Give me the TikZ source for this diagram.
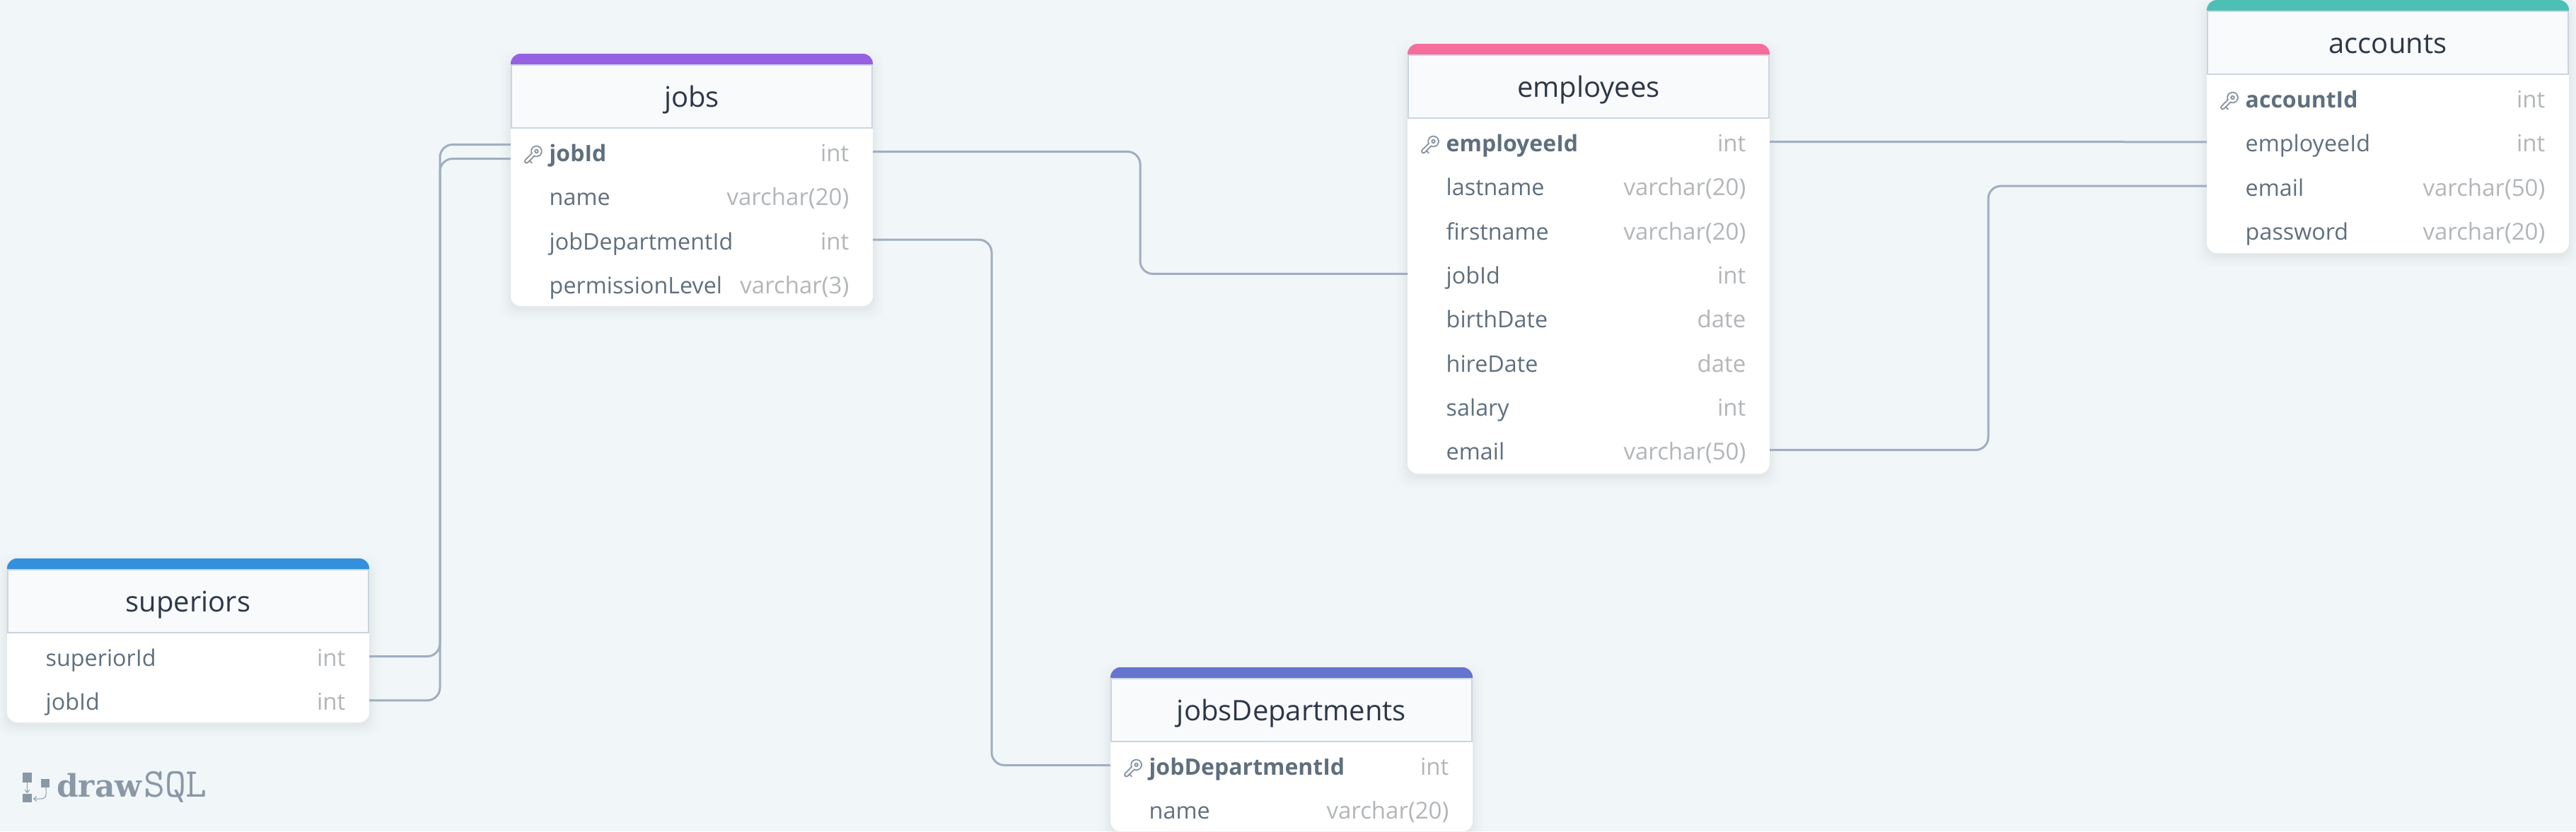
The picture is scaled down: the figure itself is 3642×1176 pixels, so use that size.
\documentclass[tikz,border=0pt]{standalone}
\usepackage{fontspec}
\setmainfont{Open Sans}
\newfontfamily\logobold{DejaVu Serif}
\usetikzlibrary{calc,arrows.meta}
\definecolor{pagebg}{HTML}{F1F6F9}
\definecolor{headbg}{HTML}{F8FAFC}
\definecolor{headline}{HTML}{CBD5E0}
\definecolor{titlecol}{HTML}{2D3748}
\definecolor{namecol}{HTML}{5F6F7E}
\definecolor{typecol}{HTML}{B3B6B9}
\definecolor{relcol}{HTML}{A0AEC0}
\definecolor{keycol}{HTML}{8795A1}
\definecolor{logocol}{HTML}{8A98A5}
\definecolor{cpurple}{HTML}{9561E2}
\definecolor{cblue}{HTML}{3490DC}
\definecolor{cpink}{HTML}{F66D9B}
\definecolor{cteal}{HTML}{4DC0B5}
\definecolor{cindigo}{HTML}{6574CD}
\tikzset{
  cardbox/.style={fill=white,rounded corners=14pt,inner sep=0pt,outer sep=0pt,minimum width=512pt,anchor=north west},
  headbox/.style={fill=headbg,draw=headline,line width=2pt,inner sep=0pt,outer sep=0pt,minimum width=510pt,minimum height=89pt,anchor=north west},
  fieldrow/.style={inner sep=0pt,outer sep=0pt,minimum width=512pt,minimum height=62pt},
  titletext/.style={inner sep=0pt,anchor=base,text=titlecol,font=\fontsize{40}{40}\selectfont},
  nametext/.style={inner sep=0pt,anchor=base west,text=namecol,font=\fontsize{32.3}{32.3}\selectfont},
  pknametext/.style={nametext,font=\fontsize{32}{32}\selectfont\bfseries},
  typetext/.style={inner sep=0pt,anchor=base east,text=typecol,font=\fontsize{33}{33}\selectfont},
  rel/.style={draw=relcol,line width=3pt,rounded corners=18pt},
  keyicon/.style={draw=keycol,line width=2pt,double=white,double distance=3pt,line cap=round,line join=round},
}
\newcommand{\tablecard}[5]{% id, left, top, height, colour
  \def\curL{#2}\def\curT{#3}%
  \foreach \g/\o in {16/0.006,12/0.008,8/0.01,5/0.012,2/0.016}{
    \fill[black,opacity=\o,rounded corners=18pt] (#2-\g,#3+10-\g) rectangle (#2+512+\g,#3+#4+4+\g);
  }
  \node[cardbox,minimum height=#4 pt] (#1) at (#2,#3) {};
  \fill[#5] (#2,#3+16) [rounded corners=14pt] |- (#2+512,#3) [sharp corners] -- (#2+512,#3+16) -- cycle;
  \node[headbox] (#1-head) at (#2+1,#3+16) {};
}
\newcommand{\tabletitle}[2]{\node[titletext] (#1-title) at (\curL+256,\curT+75) {#2};}
\newcommand{\tablerow}[5]{% table, field, index, type, style
  \pgfmathsetmacro{\rowy}{\curT+138.5+62.3*#3}
  \node[fieldrow] (#1-#2) at (\curL+256,\rowy) {};
  \node[#5] (#1-#2-name) at ($(#1-#2.west)+(54.5,14)$) {#2};
  \node[typetext] (#1-#2-type) at ($(#1-#2.east)+(-33.5,14)$) {#4};
}
\newcommand{\pkey}[2]{% key drawn beside the primary key field
  \draw[keyicon] ($(#1-#2.west)+(36.5,-0.5)$) circle (5) ($(#1-#2.west)+(33,3)$) -- ($(#1-#2.west)+(22.5,13.5)$);
  \draw[keycol,line width=2pt,line cap=round] ($(#1-#2.west)+(26.5,12.5)$) -- ($(#1-#2.west)+(30,16)$);
}
\begin{document}
\begin{tikzpicture}[x=1pt,y=-1pt]
\fill[pagebg] (0,0) rectangle (3642,1176);
\useasboundingbox (0,0) rectangle (3642,1176);
\clip (0,0) rectangle (3642,1176);

\tablecard{jobs}{722}{76}{357}{cpurple}
\tabletitle{jobs}{jobs}
\tablerow{jobs}{jobId}{0}{int}{pknametext}
\tablerow{jobs}{name}{1}{varchar(20)}{nametext}
\tablerow{jobs}{jobDepartmentId}{2}{int}{nametext}
\tablerow{jobs}{permissionLevel}{3}{varchar(3)}{nametext}
\pkey{jobs}{jobId}

\tablecard{superiors}{10}{790}{232}{cblue}
\tabletitle{superiors}{superiors}
\tablerow{superiors}{superiorId}{0}{int}{nametext}
\tablerow{superiors}{jobId}{1}{int}{nametext}

\tablecard{employees}{1990}{62}{608}{cpink}
\tabletitle{employees}{employees}
\tablerow{employees}{employeeId}{0}{int}{pknametext}
\tablerow{employees}{lastname}{1}{varchar(20)}{nametext}
\tablerow{employees}{firstname}{2}{varchar(20)}{nametext}
\tablerow{employees}{jobId}{3}{int}{nametext}
\tablerow{employees}{birthDate}{4}{date}{nametext}
\tablerow{employees}{hireDate}{5}{date}{nametext}
\tablerow{employees}{salary}{6}{int}{nametext}
\tablerow{employees}{email}{7}{varchar(50)}{nametext}
\pkey{employees}{employeeId}

\tablecard{accounts}{3120}{0}{358}{cteal}
\tabletitle{accounts}{accounts}
\tablerow{accounts}{accountId}{0}{int}{pknametext}
\tablerow{accounts}{employeeId}{1}{int}{nametext}
\tablerow{accounts}{email}{2}{varchar(50)}{nametext}
\tablerow{accounts}{password}{3}{varchar(20)}{nametext}
\pkey{accounts}{accountId}

\tablecard{jobsDepartments}{1570}{944}{232}{cindigo}
\tabletitle{jobsDepartments}{jobsDepartments}
\tablerow{jobsDepartments}{jobDepartmentId}{0}{int}{pknametext}
\tablerow{jobsDepartments}{name}{1}{varchar(20)}{nametext}
\pkey{jobsDepartments}{jobDepartmentId}

% connectors
\draw[rel] (jobs-jobId.east) -| ($(jobs-jobId.east)!.5!(employees-jobId.west)$) |- (employees-jobId.west);
\draw[rel] (jobs-jobDepartmentId.east) -| ($(jobs-jobDepartmentId.east)!.5!(jobsDepartments-jobDepartmentId.west)$) |- (jobsDepartments-jobDepartmentId.west);
\draw[rel] (employees-employeeId.east) -- (accounts-employeeId.west);
\draw[rel] (employees-email.east) -| ($(employees-email.east)!.5!(accounts-email.west)$) |- (accounts-email.west);
\coordinate (jobsJobIdA) at ($(jobs-jobId.west)+(0,-10)$);
\coordinate (jobsJobIdB) at ($(jobs-jobId.west)+(0,10)$);
\draw[rel] (superiors-superiorId.east) -| ($(superiors-superiorId.east)!.5!(jobsJobIdA)$) |- (jobsJobIdA);
\draw[rel] (superiors-jobId.east) -| ($(superiors-jobId.east)!.5!(jobsJobIdB)$) |- (jobsJobIdB);

% logo
\fill[logocol] (32,1093) rectangle (45,1107);
\fill[logocol] (32,1123) rectangle (45,1135);
\fill[logocol] (58,1102) rectangle (70,1114);
\draw[logocol,line width=1pt,-{Straight Barb[length=4pt,width=7pt]}] (38.5,1107) -- (38.5,1122);
\draw[logocol,line width=1pt,rounded corners=6pt,-{Straight Barb[length=4pt,width=7pt]}] (65,1114) |- (47,1130);
\node[inner sep=0pt,anchor=base west,text=logocol,font=\logobold\bfseries\fontsize{44}{44}\selectfont] (logoDraw) at (80,1127) {draw};
\node[inner sep=0pt,anchor=base west,text=logocol,font=\ttfamily\fontsize{58}{58}\selectfont] (logoSql) at (203,1127) {SQL};
\end{tikzpicture}
\end{document}
